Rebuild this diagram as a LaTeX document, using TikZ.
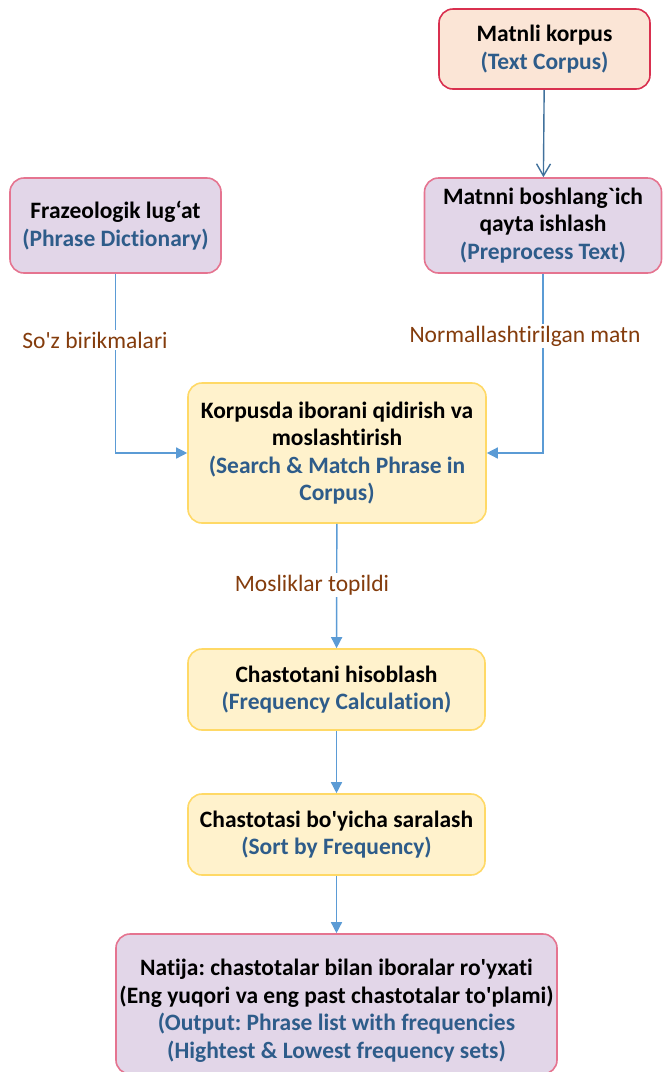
\documentclass[tikz,border=0pt]{standalone}
\usepackage{fontspec}
\setmainfont{Carlito}[Ligatures={NoCommon}]
\usetikzlibrary{arrows.meta}
\definecolor{peach}{HTML}{FBE5D6}
\definecolor{crimson}{HTML}{D9304F}
\definecolor{lilac}{HTML}{E2D6E8}
\definecolor{rosy}{HTML}{E57490}
\definecolor{cream}{HTML}{FFF2CC}
\definecolor{gold}{HTML}{FFD966}
\definecolor{eng}{HTML}{2E5C8A}
\definecolor{rust}{HTML}{843C0C}
\definecolor{sky}{HTML}{5B9BD5}
\definecolor{navy}{HTML}{41719C}
\newcommand{\en}[1]{{\color{eng}#1}}
\frenchspacing

\begin{document}
\begin{tikzpicture}[x=1pt, y=-1pt,
  box/.style={draw, line width=1.6pt, rounded corners=14pt, align=center, inner sep=0pt,
    font=\fontsize{23.5}{27.5}\selectfont\bfseries},
  src/.style={box, fill=peach, draw=crimson},
  proc/.style={box, fill=lilac, draw=rosy},
  work/.style={box, fill=cream, draw=gold},
  lbl/.style={fill=white, inner sep=2pt, text=rust, font=\fontsize{23.5}{27}\selectfont},
  >={Triangle[length=11pt, width=11pt]}, line width=1.4pt]
\useasboundingbox (0,0) rectangle (662,1072);
\node[src, minimum width=211pt, minimum height=80pt] (b1) at (544.5,49) {Matnli korpus\\\en{(Text Corpus)}};
\node[proc, minimum width=237pt, minimum height=95pt] (b2) at (543,225.5) {Matnni boshlang\textasciigrave ich\\qayta ishlash\\\en{(Preprocess Text)}};
\node[proc, minimum width=211pt, minimum height=95pt] (b3) at (115.5,225.5) {Frazeologik lug‘at\\\en{(Phrase Dictionary)}};
\node[work, minimum width=298pt, minimum height=140pt] (b4) at (337,453) {Korpusda iborani qidirish va\\moslashtirish\\\en{(Search \& Match Phrase in}\\\en{Corpus)}};
\node[work, minimum width=297pt, minimum height=81pt] (b5) at (336.5,689.5) {Chastotani hisoblash\\\en{(Frequency Calculation)}};
\node[work, minimum width=297pt, minimum height=81pt] (b6) at (336.5,834.5) {Chastotasi bo\textquotesingle yicha saralash\\\en{(Sort by Frequency)}};
\node[proc, minimum width=441pt, minimum height=140pt] (b7) at (336.5,1004) {\rule{0pt}{30pt}Natija: chastotalar bilan iboralar ro\textquotesingle yxati\\(Eng yuqori va eng past chastotalar to\textquotesingle plami)\\\en{(Output: Phrase list with frequencies}\\\en{(Hightest \& Lowest frequency sets)}};
% connectors
\draw[navy, -{Straight Barb[length=12pt, width=14pt]}] (b1) -- (b2);
\draw[sky, ->] (b3) |- (b4);
\draw[sky, ->] (b2) |- (b4);
\draw[sky, ->] (b4) -- (b5);
\draw[sky, ->] (b5) -- (b6);
\draw[sky, ->] (b6) -- (b7);
% labels
\node[lbl] (l1) at (95,340) {So\textquotesingle z birikmalari};
\node[lbl] (l2) at (525,336) {Normallashtirilgan matn};
\node[lbl] (l3) at (312,585) {Mosliklar topildi};
\end{tikzpicture}
\end{document}
